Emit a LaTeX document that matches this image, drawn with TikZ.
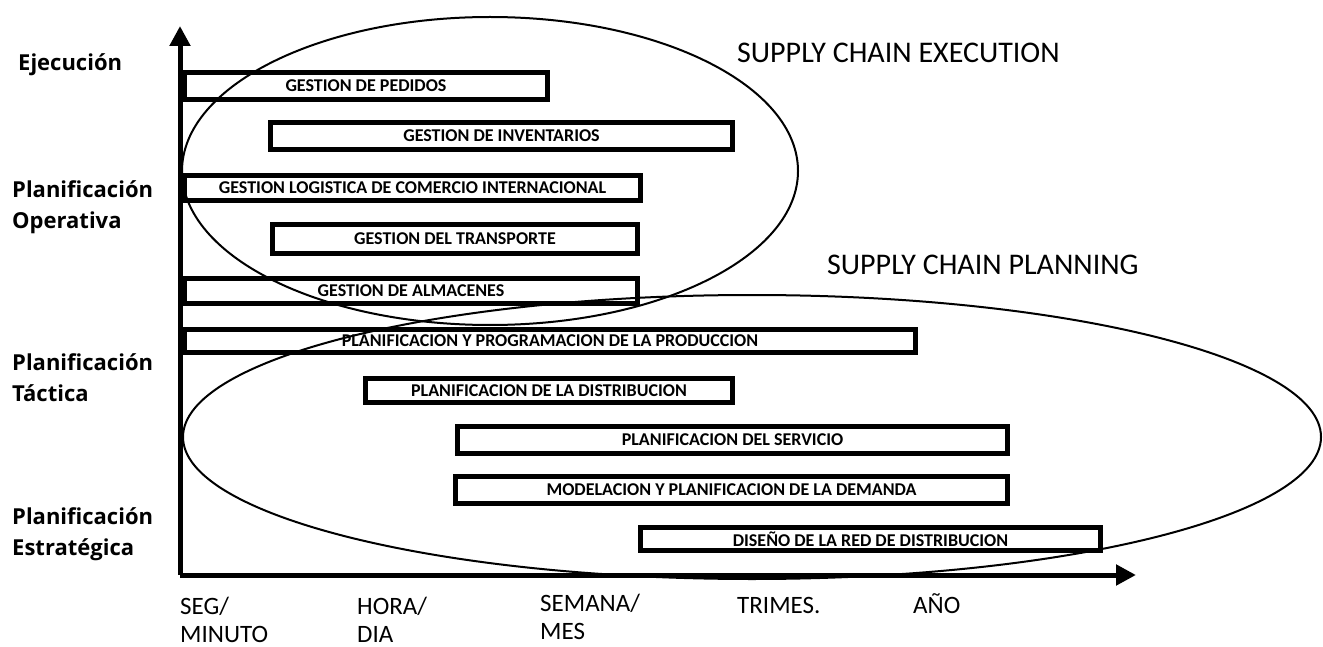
\documentclass[tikz,border=0pt]{standalone}
\usepackage{fontspec}
\setmainfont{Carlito}
\newfontfamily\lblfont{Open Sans}
\usetikzlibrary{arrows.meta}
\begin{document}
\begin{tikzpicture}[x=1pt,y=-1pt,
  barbox/.style={draw, line width=5pt, inner sep=0pt, anchor=center,
    font=\fontsize{18}{18}\selectfont\bfseries},
  axisline/.style={line width=5pt, -{Triangle[width=20pt,length=20pt]}},
  zone/.style={line width=2pt},
  levellbl/.style={anchor=base west, inner sep=0pt, align=left,
    font=\lblfont\bfseries\fontsize{22}{31}\selectfont},
  timelbl/.style={anchor=base west, inner sep=0pt, align=left,
    font=\fontsize{25}{28}\selectfont},
  chainlbl/.style={anchor=base west, inner sep=0pt, font=\fontsize{30}{30}\selectfont}]
\useasboundingbox[fill=white] (0,0) rectangle (1323,647);

% axes
\coordinate (O) at (180,575);
\coordinate (Ytip) at (180,26);
\coordinate (Xtip) at (1136,575);
\draw[axisline] (O) -- (Ytip);
\draw[axisline] (O) -- (Xtip);

% bars
\node[barbox, minimum width=363pt, minimum height=27pt] (b1) at (366,86) {GESTION DE PEDIDOS};
\node[barbox, minimum width=462pt, minimum height=27pt] (b2) at (501.5,136) {GESTION DE INVENTARIOS};
\node[barbox, minimum width=456pt, minimum height=25pt] (b3) at (412.5,188) {GESTION LOGISTICA DE COMERCIO INTERNACIONAL};
\node[barbox, minimum width=365pt, minimum height=29pt] (b4) at (455,239) {GESTION DEL TRANSPORTE};
\node[barbox, minimum width=453pt, minimum height=25pt] (b5) at (411,291) {GESTION DE ALMACENES};
\node[barbox, minimum width=731pt, minimum height=23pt] (b6) at (550,341) {PLANIFICACION Y PROGRAMACION DE LA PRODUCCION};
\node[barbox, minimum width=367pt, minimum height=24pt] (b7) at (549,390.5) {PLANIFICACION DE LA DISTRIBUCION};
\node[barbox, minimum width=550pt, minimum height=27pt] (b8) at (732.5,440) {PLANIFICACION DEL SERVICIO};
\node[barbox, minimum width=552pt, minimum height=27pt] (b9) at (731.5,490) {MODELACION Y PLANIFICACION DE LA DEMANDA};
\node[barbox, minimum width=460pt, minimum height=23pt] (b10) at (870.5,539) {DISEÑO DE LA RED DE DISTRIBUCION};

% ellipses
\draw[zone] (490,171) ellipse [x radius=308pt, y radius=154pt];
\draw[zone] (752,437) ellipse [x radius=569pt, y radius=142pt];

% chain labels
\node[chainlbl] (sce) at (737,63) {SUPPLY CHAIN EXECUTION};
\node[chainlbl] (scp) at (827,275) {SUPPLY CHAIN PLANNING};

% level labels (base anchor = last line)
\node[levellbl] (l1) at (18,71) {Ejecución};
\node[levellbl] (l2) at (12,229) {Planificación\\Operativa};
\node[levellbl] (l3) at (12,401) {Planificación\\Táctica};
\node[levellbl] (l4) at (12,555) {Planificación\\Estratégica};

% time labels (base anchor = last line)
\node[timelbl] (t1) at (180,642) {SEG/\\MINUTO};
\node[timelbl] (t2) at (357,642) {HORA/\\DIA};
\node[timelbl] (t3) at (540,639) {SEMANA/\\MES};
\node[timelbl] (t4) at (737,613) {TRIMES.};
\node[timelbl] (t5) at (913,613) {AÑO};
\end{tikzpicture}
\end{document}
